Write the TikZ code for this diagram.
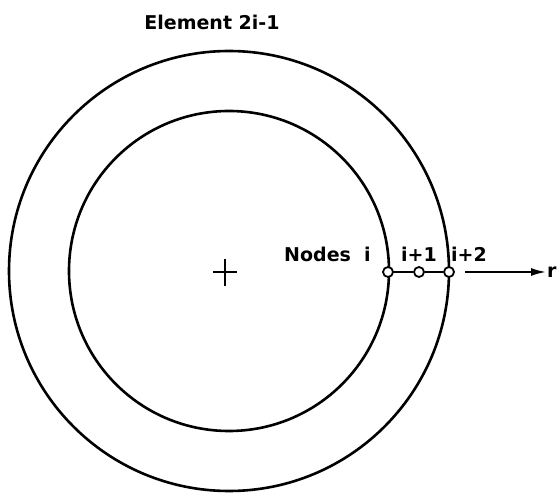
\documentclass[tikz,border=0pt]{standalone}
\usepackage{fontspec}
\setmainfont{DejaVu Sans}
\usetikzlibrary{arrows.meta,positioning}

\begin{document}
\begin{tikzpicture}[
  x=1pt, y=-1pt,
  ring/.style={line width=2.6pt},
  gridpt/.style={
    circle,
    draw,
    fill=white,
    line width=1.8pt,
    inner sep=0pt,
    minimum size=10pt
  },
  lbl/.style={font=\fontsize{19}{21}\selectfont\bfseries, inner sep=1pt}
]
  \useasboundingbox (0,0) rectangle (560,494);

  % Rings of the element
  \coordinate (ctr) at (229,271);
  \draw[ring] (ctr) circle (220pt);
  \draw[ring] (ctr) circle (160pt);

  % Centre mark
  \draw[line width=1.6pt] (213,272) -- (237,272);
  \draw[line width=1.6pt] (225,259) -- (225,286);

  % Title
  \node[lbl, anchor=base] (title) at (212,30) {Element 2i-1};

  % Nodes on the radius
  \node[gridpt] (ni) at (388,272) {};
  \node[gridpt] (nia) at (419,272) {};
  \node[gridpt] (nib) at (449,272) {};
  \draw[line width=1.8pt] (ni) -- (nia) -- (nib);

  \node[lbl, anchor=base west] (nlab) at (283,262) {Nodes\ \ i};
  \node[lbl, anchor=base] (nialab) at (419,262) {i+1};
  \node[lbl, anchor=base west] (niblab) at (450,262) {i+2};

  % Radial direction
  \coordinate (rstart) at (465,272);
  \node[lbl, anchor=base west] (rlab) at (546,278) {r};
  \draw[line width=1.8pt, -{Latex[length=15pt,width=8pt]}] (rstart) -- (rstart -| rlab.west);

\end{tikzpicture}
\end{document}
